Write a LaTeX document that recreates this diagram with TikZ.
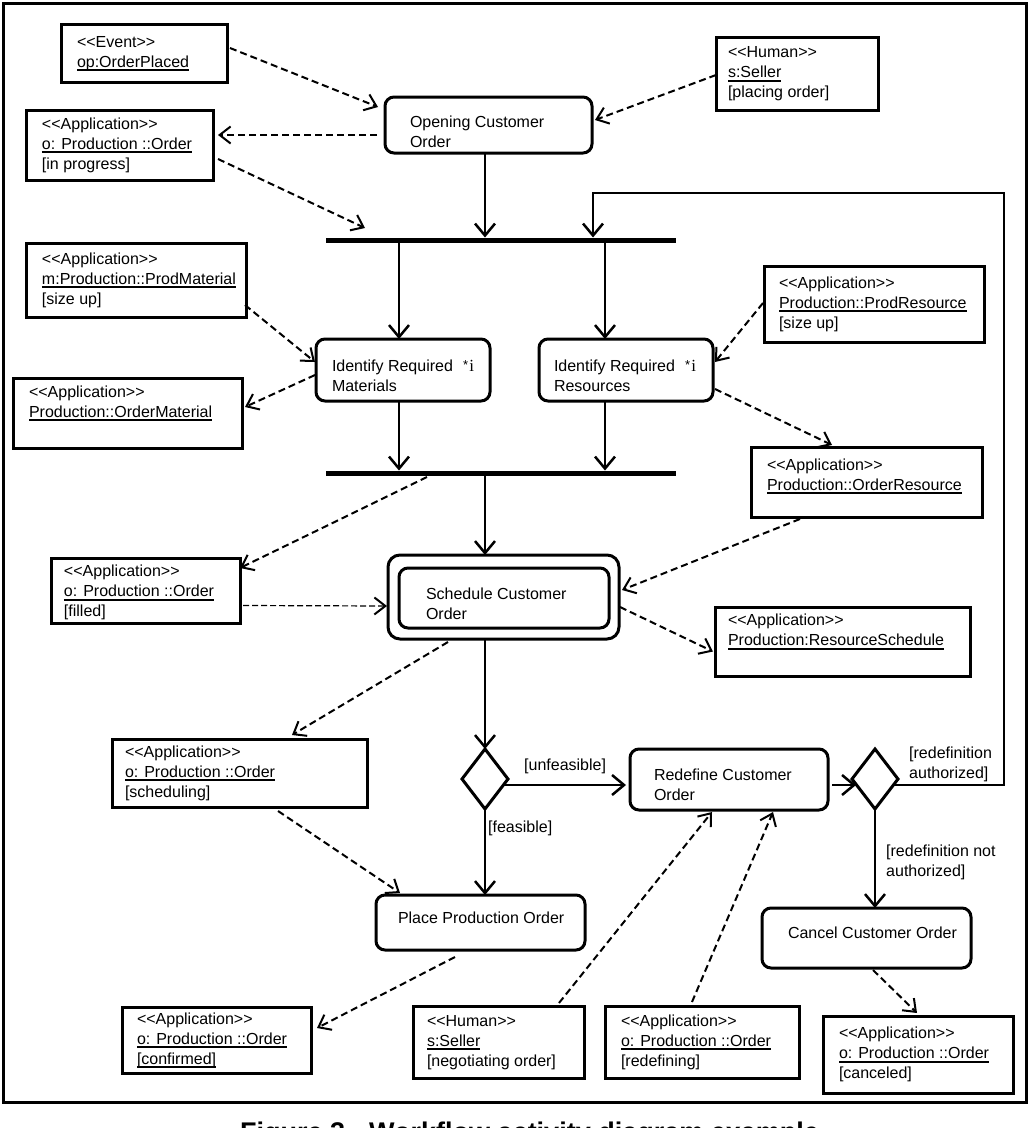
\documentclass[tikz,border=0pt]{standalone}
\usepackage{fontspec}
\setmainfont{Liberation Sans}
\newfontfamily\serifi{Liberation Serif}
\usetikzlibrary{arrows.meta,shapes.geometric,calc}

\newcommand{\undl}[1]{\setbox0=\hbox{#1}\rlap{\rule[-4pt]{\wd0}{2pt}}\box0}
\newcommand{\bk}[1]{[#1]}
\newcommand{\stereo}[1]{<{}<#1>{}>}
\newcommand{\itermark}{\raisebox{2.5pt}{\fontsize{13}{13}\selectfont *}\hspace{1pt}{\serifi\fontsize{17}{20}\selectfont i}}
\newcommand{\intext}[4]{\raisebox{#3pt}[\height][\depth]{\makebox[#1pt][l]{\hspace*{#2pt}\begin{tabular}{@{}l@{}}#4\end{tabular}}}}

\tikzset{
  every node/.style={font=\fontsize{16}{20}\selectfont},
  obj/.style={draw, line width=3pt, inner sep=0pt, outer sep=0pt, anchor=north west},
  act/.style={draw, line width=3pt, rounded corners=9pt, inner sep=0pt, outer sep=0pt, anchor=north west},
  bar/.style={fill=black, inner sep=0pt, outer sep=0pt, minimum height=5pt, minimum width=350pt},
  dec/.style={draw, diamond, line width=3pt, inner sep=0pt, outer sep=0pt, minimum width=46pt, minimum height=60pt},
  flow/.style={line width=2.5pt, -{Straight Barb[length=12pt,width=20pt]}},
  dep/.style={line width=2pt, dash pattern=on 7pt off 4pt, -{Straight Barb[length=11pt,width=17pt]}},
  thindep/.style={line width=1.2pt, dash pattern=on 6pt off 3pt, -{Straight Barb[length=11pt,width=17pt,line width=2pt]}},
  lbl/.style={inner sep=0pt, anchor=west},
}

\begin{document}
\begin{tikzpicture}[x=1pt,y=-1pt]
\useasboundingbox (0,0) rectangle (1030,1128);
\clip (0,0) rectangle (1030,1128);
\fill[white] (0,0) rectangle (1030,1128);

% frame
\draw[line width=3pt] (3,3) rectangle (1026,1102);

% column coordinates
\coordinate (colM) at (485,0);
\coordinate (colL) at (399,0);
\coordinate (colR) at (605,0);

% object nodes
\node[obj, minimum height=58pt] (ev) at (61,24) {\intext{166}{16}{0}{\stereo{Event}\\\undl{op:OrderPlaced}}};
\node[obj, minimum height=70pt] (ip) at (26,110) {\intext{187}{16}{0}{\stereo{Application}\\\undl{o: Production ::Order}\\\bk{in progress}}};
\node[obj, minimum height=73pt] (se1) at (716,37) {\intext{162}{12}{0}{\stereo{Human}\\\undl{s:Seller}\\\bk{placing order}}};
\node[obj, minimum height=74pt] (pm) at (26,243) {\intext{220}{16}{0}{\stereo{Application}\\\undl{m:Production::ProdMaterial}\\\bk{size up}}};
\node[obj, minimum height=70pt] (om) at (13,378) {\intext{229}{16}{0}{\stereo{Application}\\\undl{Production::OrderMaterial}\\\mbox{}}};
\node[obj, minimum height=76pt] (pr) at (764,266) {\intext{220}{15}{0}{\stereo{Application}\\\undl{Production::ProdResource}\\\bk{size up}}};
\node[obj, minimum height=70pt] (ores) at (751,447) {\intext{231}{16}{-4}{\stereo{Application}\\\undl{Production::OrderResource}\\\mbox{}}};
\node[obj, minimum height=65pt] (fi) at (51,558) {\intext{189}{13}{-2}{\stereo{Application}\\\undl{o: Production ::Order}\\\bk{filled}}};
\node[obj, minimum height=69pt] (rs) at (715,607) {\intext{255}{13}{0}{\stereo{Application}\\\undl{Production:ResourceSchedule}\\\mbox{}}};
\node[obj, minimum height=68pt] (sc) at (112,739) {\intext{255}{13}{0}{\stereo{Application}\\\undl{o: Production ::Order}\\\bk{scheduling}}};
\node[obj, minimum height=66pt] (cf) at (122,1007) {\intext{189}{15}{0}{\stereo{Application}\\\undl{o: Production ::Order}\\\undl{\bk{confirmed}}}};
\node[obj, minimum height=72pt] (se2) at (413,1006) {\intext{171}{14}{0}{\stereo{Human}\\\undl{s:Seller}\\\bk{negotiating order}}};
\node[obj, minimum height=72pt] (rd) at (605,1006) {\intext{194}{16}{0}{\stereo{Application}\\\undl{o: Production ::Order}\\\bk{redefining}}};
\node[obj, minimum height=77pt] (cn) at (823,1016) {\intext{190}{16}{0}{\stereo{Application}\\\undl{o: Production ::Order}\\\bk{canceled}}};

% action nodes
\node[act, minimum height=56pt] (op) at (385,97) {\intext{207}{25}{-8}{Opening Customer\\Order}};
\node[act, minimum height=62pt] (im) at (316,339) {\intext{174}{16}{-7}{Identify Required\\Materials}};
\node[act, minimum height=62pt] (ir) at (539,339) {\intext{174}{15}{-7}{Identify Required\\Resources}};
\node[act, minimum width=231pt, minimum height=84pt, rounded corners=12pt] (sch) at (388,555) {};
\node[act, minimum height=60pt] (schin) at (399,568) {\intext{210}{27}{-7}{Schedule Customer\\Order}};
\node[act, minimum height=61pt] (rdf) at (630,749) {\intext{198}{24}{-7}{Redefine Customer\\Order}};
\node[act, minimum height=60pt] (cc) at (762,908) {\intext{209}{26}{4}{Cancel Customer Order}};
\node[act, minimum height=55pt] (pp) at (376,895) {\intext{209}{22}{3}{Place Production Order}};

% iteration marks
\node[lbl] (imstar) at (463,366) {\itermark};
\node[lbl] (irstar) at (685,366) {\itermark};

% bars and decisions
\node[bar] (f1) at (501,240) {};
\node[bar] (f2) at (501,473) {};
\node[dec] (d1) at (485,779) {};
\node[dec] (d2) at (875,779) {};

% control flow
\draw[flow] (colM |- op.south) -- (colM |- f1.north);
\draw[flow] (colL |- f1.south) -- (colL |- im.north);
\draw[flow] (colR |- f1.south) -- (colR |- ir.north);
\draw[flow] (colL |- im.south) -- (colL |- f2.north);
\draw[flow] (colR |- ir.south) -- (colR |- f2.north);
\draw[flow] (colM |- f2.south) -- (colM |- sch.north);
\draw[flow] (colM |- sch.south) -- (d1.north);
\draw[flow] (d1.south) -- (d1.south |- pp.north);
\draw[flow] ([shift={(-4,6)}]d1.east) -- ([shift={(-4,6)}]d1.east -| rdf.west);
\draw[flow] ([shift={(4,6)}]d2.west -| rdf.east) -- ([shift={(4,6)}]d2.west);
\draw[flow] (d2.south) -- (d2.south |- cc.north);
\coordinate (lp1) at (1004,785);
\coordinate (lp2) at (1004,193);
\coordinate (lp3) at (593,193);
\draw[flow] ([shift={(-4,6)}]d2.east) -- (lp1) -- (lp2) -- (lp3) -- (lp3 |- f1.north);

% guard labels
\node[lbl] (lunf) at (524,766) {\bk{unfeasible}};
\node[lbl] (lfea) at (488,828) {\bk{feasible}};
\node[lbl] (lauth) at (909,764) {\begin{tabular}{@{}l@{}}\bk{redefinition\\authorized}\end{tabular}};
\node[lbl] (lnot) at (886,862) {\begin{tabular}{@{}l@{}}\bk{redefinition not\\authorized}\end{tabular}};

% object flows
\draw[dep] ([shift={(3,-5)}]ev.east) -- ([shift={(-7,10)}]op.north west);
\draw[dep] ([shift={(0,1.5)}]se1.west) -- ([shift={(3,-5)}]op.east);
\draw[dep] ([shift={(-8,10)}]op.west) -- ([shift={(5,-10)}]ip.east);
\draw[dep] ([shift={(5,14)}]ip.east) -- ([shift={(39,-9.5)}]f1.north west);
\draw[dep] ([shift={(-1,-12)}]pm.south east) -- ([shift={(-1,-8)}]im.west);
\draw[dep] ([shift={(-1,5)}]im.west) -- ([shift={(3,-6)}]om.east);
\draw[dep] ([shift={(-1,-1)}]pr.west) -- ([shift={(2,-8)}]ir.east);
\draw[dep] ([shift={(2,19)}]ir.east) -- ([shift={(81,-2)}]ores.north west);
\draw[dep] ([shift={(101,1.5)}]f2.south west) -- ([shift={(0,10)}]fi.north east);
\draw[thindep] ([shift={(3,15)}]fi.east) -- ([shift={(-1,9)}]sch.west);
\draw[dep] ([shift={(49,2)}]ores.south west) -- ([shift={(3,-7)}]sch.east);
\draw[dep] ([shift={(1,10)}]sch.east) -- ([shift={(-2,10)}]rs.west);
\draw[dep] ([shift={(60,3)}]sch.south west) -- ([shift={(180,-4)}]sc.north west);
\draw[dep] ([shift={(166,4)}]sc.south west) -- ([shift={(24,-2)}]pp.north west);
\draw[dep] ([shift={(79,7)}]pp.south west) -- ([shift={(6,-12)}]cf.east);
\draw[dep] ([shift={(-25,-3)}]se2.north east) -- ([shift={(82,2)}]rdf.south west);
\draw[dep] ([shift={(87,-4)}]rd.north west) -- ([shift={(143,2)}]rdf.south west);
\draw[dep] ([shift={(111,2)}]cc.south west) -- ([shift={(94,-3)}]cn.north west);

% caption (cut off at the bottom edge, as in the reference)
\node[anchor=base west, inner sep=0pt, font=\bfseries\fontsize{27}{32}\selectfont] (cap) at (240,1141) {Figure 3 - Workflow activity diagram example};
\end{tikzpicture}
\end{document}
